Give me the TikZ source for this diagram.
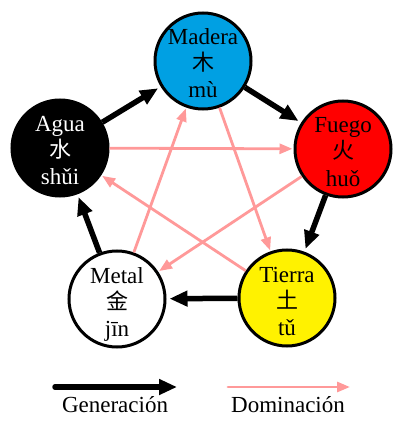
\documentclass[tikz,border=0pt]{standalone}
\usepackage{fontspec}
\setmainfont{Liberation Serif}
\newfontfamily\cjk{Noto Sans CJK SC}
\usetikzlibrary{arrows.meta}
\definecolor{madblue}{RGB}{0,160,227}
\definecolor{domink}{RGB}{255,153,153}
\tikzset{
  elem/.style={circle, draw=black, line width=3pt, minimum size=96pt, inner sep=0pt},
  txt/.style={anchor=base, inner sep=0pt, font=\fontsize{23pt}{26pt}\selectfont},
  hz/.style={anchor=base, inner sep=0pt, font=\cjk\fontsize{22pt}{24pt}\selectfont},
  gen/.style={draw=black, line width=5.5pt, -{Triangle[length=18pt,width=15pt]}, shorten >=3pt},
  dom/.style={draw=domink, line width=2.8pt, -{Triangle[length=13pt,width=10pt]}, shorten >=1pt}
}
\newcommand\elemnode[7]{%
  \node[elem, fill=#3] (#1) at #2 {};
  \node[txt, text=#4] (#1-a) at ([yshift=16pt]#1.center) {#5};
  \node[hz, text=#4] (#1-b) at ([yshift=-10pt]#1.center) {#6};
  \node[txt, text=#4] (#1-c) at ([yshift=-37pt]#1.center) {#7};
}
\begin{document}
\begin{tikzpicture}[x=1pt,y=-1pt]
\useasboundingbox (0,0) rectangle (406,430);
\elemnode{mad}{(203,61)}{madblue}{black}{Madera}{木}{mù}
\elemnode{fue}{(343,149)}{red}{black}{Fuego}{火}{huǒ}
\elemnode{tie}{(287,298)}{yellow}{black}{Tierra}{土}{tǔ}
\elemnode{met}{(117,299)}{white}{black}{Metal}{金}{jīn}
\elemnode{agu}{(60,148)}{black}{white}{Agua}{水}{shǔi}
% domination
\draw[dom] (agu) -- (fue);
\draw[dom] (fue) -- (met);
\draw[dom] (met) -- (mad);
\draw[dom] (mad) -- (tie);
\draw[dom] (tie) -- (agu);
% generation
\draw[gen] (mad) -- (fue);
\draw[gen] (fue) -- (tie);
\draw[gen] (tie) -- (met);
\draw[gen] (met) -- (agu);
\draw[gen] (agu) -- (mad);
% legend
\coordinate (g1) at (55,387);
\coordinate (g2) at (177,387);
\coordinate (d1) at (228,387);
\coordinate (d2) at (350,387);
\draw[gen, shorten >=0pt, line cap=round] (g1) -- (g2);
\draw[dom, shorten >=0pt, line cap=round] (d1) -- (d2);
\node[txt] (lg) at (115,412) {Generación};
\node[txt] (ld) at (288,412) {Dominación};
\end{tikzpicture}
\end{document}
